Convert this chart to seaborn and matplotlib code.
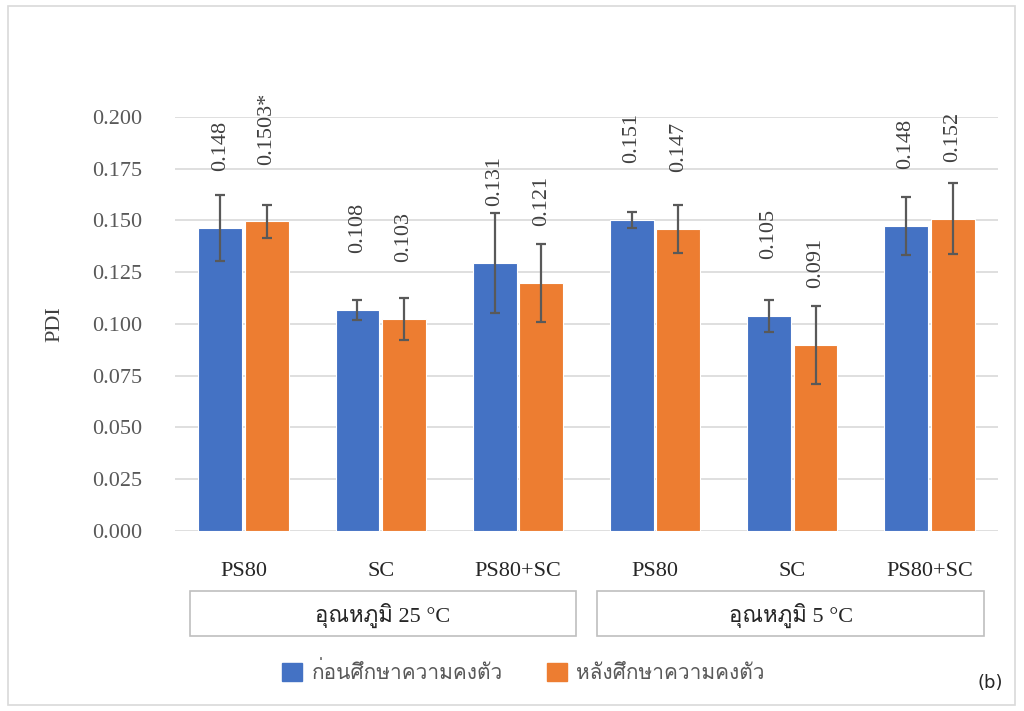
import matplotlib
matplotlib.use('Agg')
import pandas as pd
import matplotlib.pyplot as plt
import matplotlib.patches as mpatches
import matplotlib.transforms as mtransforms
from matplotlib import font_manager
from matplotlib.ft2font import FT2Font
import seaborn as sns

# Chart data
groups = ['อุณหภูมิ 25 °C', 'อุณหภูมิ 5 °C']
formulas = ['PS80', 'SC', 'PS80+SC']
series = ['ก่อนศึกษาความคงตัว', 'หลังศึกษาความคงตัว']
before_pdi = [0.1465, 0.1068, 0.1295, 0.1502, 0.1037, 0.1475]
after_pdi = [0.1495, 0.1024, 0.1198, 0.1459, 0.0899, 0.1509]
before_sd = [0.016, 0.005, 0.024, 0.004, 0.0078, 0.014]
after_sd = [0.008, 0.010, 0.019, 0.0117, 0.019, 0.017]
before_labels = ['0.148', '0.108', '0.131', '0.151', '0.105', '0.148']
after_labels = ['0.1503*', '0.103', '0.121', '0.147', '0.091', '0.152']
y_ticks = [0.000, 0.025, 0.050, 0.075, 0.100, 0.125, 0.150, 0.175, 0.200]

colors = ['#4472C4', '#ED7D31']


def find_thai_font():
    # look for any installed font that has Thai glyphs
    for f in font_manager.fontManager.ttflist:
        try:
            cmap = FT2Font(f.fname).get_charmap()
        except Exception:
            continue
        if 0x0E01 in cmap and 0x0E38 in cmap:
            return f.name
    return 'DejaVu Sans'


sns.set_theme(style='white')
thai = find_thai_font()
serif = ['Liberation Serif', thai, 'DejaVu Sans']
plt.rcParams['font.family'] = serif

# Build the long table seaborn wants
keys = [f'{f} ({g})' for g in groups for f in formulas]
rows = []
for i, k in enumerate(keys):
    rows.append({'cond': k, 'stage': series[0], 'pdi': before_pdi[i]})
    rows.append({'cond': k, 'stage': series[1], 'pdi': after_pdi[i]})
df = pd.DataFrame(rows)

fig = plt.figure(figsize=(10.24, 7.11), dpi=100)
ax = fig.add_axes([0.1709, 0.2532, 0.8037, 0.5823])

sns.barplot(data=df, x='cond', y='pdi', hue='stage', order=keys,
            hue_order=series, palette=colors, width=0.68, gap=0.06,
            errorbar=None, legend=False, edgecolor='white', linewidth=0.8,
            saturation=1, ax=ax)

# error bars + rotated value labels
sds = [before_sd, after_sd]
labels = [before_labels, after_labels]
bar_sets = list(ax.containers)
for h, cont in enumerate(bar_sets):
    xs = [p.get_x() + p.get_width() / 2 for p in cont.patches]
    hs = [p.get_height() for p in cont.patches]
    ax.errorbar(xs, hs, yerr=sds[h], fmt='none', ecolor='#595959',
                elinewidth=1.6, capsize=3.5, capthick=1.6, zorder=5)
    for x, y, lab in zip(xs, hs, labels[h]):
        ax.text(x, y + 0.0275, lab, rotation=90, ha='center', va='bottom',
                fontsize=16, color='#404040')

ax.set_ylim(0, 0.2)
ax.set_xlim(-0.5, 5.5)
ax.set_yticks(y_ticks)
ax.set_yticklabels([f'{v:.3f}' for v in y_ticks], fontsize=16, color='#595959')
ax.set_xticks(range(len(keys)))
ax.set_xticklabels(formulas * len(groups), fontsize=16, color='#262626')
ax.tick_params(axis='x', length=0, pad=22)
ax.tick_params(axis='y', length=0, pad=23.8)
ax.grid(axis='y', color='#D9D9D9', linewidth=1.2)
ax.set_axisbelow(True)
sns.despine(ax=ax, left=True, top=True, right=True, bottom=True)
ax.set_xlabel('')
ax.set_ylabel('PDI', fontsize=16, color='#404040', labelpad=20)

# group boxes under the category labels
trans = mtransforms.blended_transform_factory(ax.transData, ax.transAxes)
box_spans = [(-0.39, 2.42), (2.58, 5.40)]
for g, (x0, x1) in enumerate(box_spans):
    ax.add_patch(mpatches.Rectangle((x0, -0.2536), x1 - x0, 0.1087,
                                    transform=trans, clip_on=False,
                                    facecolor='none', edgecolor='#BFBFBF',
                                    linewidth=1.2))
    ax.text((x0 + x1) / 2, -0.205, groups[g], transform=trans, ha='center',
            va='center', fontsize=16, color='#262626')

# legend
handles = [mpatches.Patch(color=c, label=s) for c, s in zip(colors, series)]
fig.legend(handles=handles, loc='center', bbox_to_anchor=(0.511, 0.0534),
           ncol=2, frameon=False, fontsize=15, handlelength=0.96,
           handleheight=0.96, columnspacing=2.1, handletextpad=0.45,
           labelcolor='#595959')

fig.text(0.967, 0.039, '(b)', fontsize=13, family='DejaVu Sans', color='#262626',
         ha='center', va='center')

# outer chart frame
fig.add_artist(mpatches.Rectangle((0.008, 0.009), 0.983, 0.983,
                                  transform=fig.transFigure, fill=False,
                                  edgecolor='#D9D9D9', linewidth=1.2))

fig.savefig('out.png', dpi=100)
